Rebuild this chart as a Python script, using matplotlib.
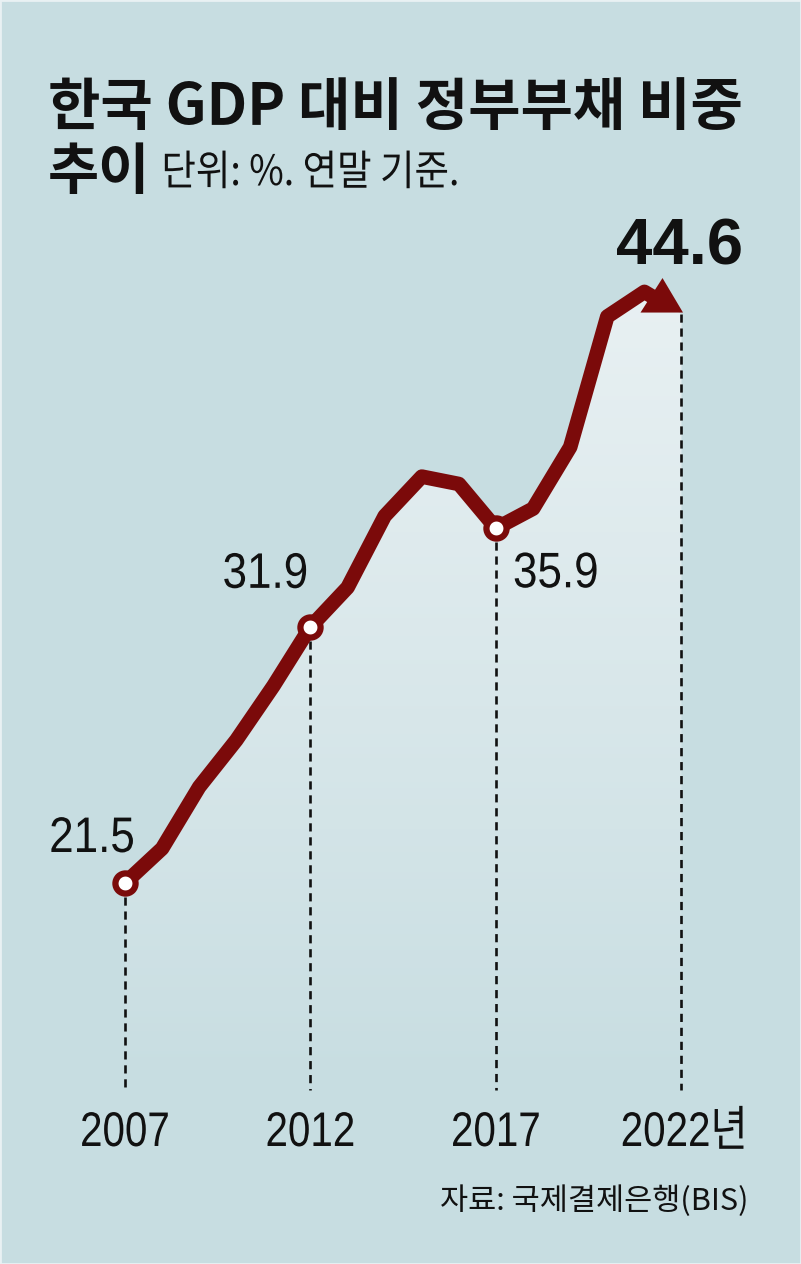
import numpy as np
import matplotlib
matplotlib.use('Agg')
import matplotlib.pyplot as plt
from matplotlib.transforms import Affine2D, ScaledTranslation
from matplotlib.patches import Polygon, Rectangle
from matplotlib.patheffects import AbstractPathEffect

# ---- data ----
years = list(range(2007, 2023))
debt = [21.5, 22.9, 25.4, 27.3, 29.5, 31.9, 33.5, 36.4, 38.0, 37.7,
        35.9, 36.7, 39.2, 44.5, 45.5, 44.6]
label_years = [2007, 2012, 2017, 2022]
tick_labels = ['2007', '2012', '2017', '2022년']
title_line1 = '한국 GDP 대비 정부부채 비중'
title_line2 = '추이'
unit_text = '단위: %. 연말 기준.'
source_text = '자료: 국제결제은행(BIS)'

# ---- style ----
W, H = 801, 1264
BG = '#c7dde1'
RED = '#7b0a0a'
INK = '#111111'
NUM = ['Liberation Sans', 'Noto Sans CJK KR']
KR = ['Noto Sans CJK KR', 'DejaVu Sans']


class Squeeze(AbstractPathEffect):
    """Draw text glyphs horizontally condensed (narrow type face look)."""
    def __init__(self, sx=0.85, anchor='center'):
        super().__init__()
        self.sx = sx
        self.anchor = anchor

    def draw_path(self, renderer, gc, tpath, affine, rgbFace=None):
        ext = tpath.get_extents()
        if self.anchor == 'left':
            cx = ext.x0
        elif self.anchor == 'right':
            cx = ext.x1
        else:
            cx = (ext.x0 + ext.x1) / 2
        t = Affine2D().translate(-cx, 0).scale(self.sx, 1).translate(cx, 0) + affine
        renderer.draw_path(gc, tpath, t, rgbFace)


fig = plt.figure(figsize=(W / 100, H / 100), dpi=100)
fig.patch.set_facecolor(BG)
ax = fig.add_axes([0, 0, 1, 1])
ax.axis('off')

# axis scale: pixel layout of the original
X0PX, XSTEP = 125, 37.1
Y0PX, YSTEP, V0 = 883, 24.63, 21.5
xlim = (years[0] - X0PX / XSTEP, years[0] + (W - X0PX) / XSTEP)
ylim = (V0 - (H - Y0PX) / YSTEP, V0 + Y0PX / YSTEP)
base = V0 - (1090 - Y0PX) / YSTEP

# gradient fill under the curve
poly = ax.fill_between(years, debt, base, facecolor='none', edgecolor='none')
n = 256
rgba = np.zeros((n, 1, 4))
rgba[..., 0] = 0.922
rgba[..., 1] = 0.950
rgba[..., 2] = 0.960
rgba[..., 3] = (np.linspace(0, 1, n) ** 0.9 * 0.95).reshape(-1, 1)
im = ax.imshow(rgba, extent=(years[0], years[-1], base, max(debt) + 1),
               origin='lower', aspect='auto', zorder=1, interpolation='bilinear')
im.set_clip_path(poly.get_paths()[0], transform=ax.transData)

# dashed guide lines
for yr in label_years:
    v = debt[years.index(yr)]
    ax.plot([yr, yr], [v, base], color=INK, lw=1.9,
            linestyle=(0, (3.1, 2.2)), dash_capstyle='butt', zorder=2)

# main line (ends into the arrow head)
mid_x = (years[-2] + years[-1]) / 2
mid_y = (debt[-2] + debt[-1]) / 2
ax.plot(years[:-1] + [mid_x], debt[:-1] + [mid_y], color=RED, lw=10.5,
        solid_joinstyle='round', solid_capstyle='butt', zorder=3)

# arrow head at last point
trans = Affine2D() + ScaledTranslation(years[-1], debt[-1], ax.transData)
head = Polygon([(1.5, 1.5), (-41, 1.5), (-19, 36)], closed=True, transform=trans,
               facecolor=RED, edgecolor='none', zorder=4)
ax.add_patch(head)

# markers
mk_v = [debt[years.index(y)] for y in label_years[:3]]
ax.plot(label_years[:3], mk_v, 'o', ms=14.5, mfc='white', mec=RED, mew=4.5, zorder=5)

# value labels
offsets = [(-33, 31), (-45, 39), (60, -59)]
for yr, v, (dx, dy) in zip(label_years[:3], mk_v, offsets):
    ax.annotate(f'{v}', xy=(yr, v), xytext=(dx, dy), textcoords='offset pixels',
                ha='center', va='baseline', fontsize=36, family=NUM, color=INK,
                path_effects=[Squeeze(0.88)])
ax.annotate(f'{debt[-1]}', xy=(years[-1], debt[-1]), xytext=(-2, 50),
            textcoords='offset pixels', ha='center', va='baseline',
            fontsize=47, fontweight='bold', family=['Liberation Sans', 'DejaVu Sans'],
            color=INK)

# year labels
for yr, lab in zip(label_years, tick_labels):
    dx = 3 if lab.endswith('년') else 0
    ax.annotate(lab, xy=(yr, base), xytext=(dx, -56), textcoords='offset pixels',
                ha='center', va='baseline', fontsize=35, family=NUM, color=INK,
                path_effects=[Squeeze(0.83)])

ax.set_xlim(*xlim)
ax.set_ylim(*ylim)

# titles
fig.text(48 / W, 1 - 125 / H, title_line1, fontsize=41, fontweight='bold',
         family=KR, color=INK, ha='left', va='baseline')
fig.text(48 / W, 1 - 189 / H, title_line2, fontsize=40, fontweight='bold',
         family=KR, color=INK, ha='left', va='baseline')
fig.text(161 / W, 1 - 185 / H, unit_text, fontsize=30, family=KR,
         color=INK, ha='left', va='baseline', path_effects=[Squeeze(0.9, 'left')])
fig.text(748 / W, 1 - 1210 / H, source_text, fontsize=22, family=KR,
         color=INK, ha='right', va='baseline')

fig.patches.append(Rectangle((0, 0), 1, 1, transform=fig.transFigure, fill=False,
                             edgecolor='#e9f1f3', lw=2))

fig.savefig('out.png', dpi=100, facecolor=BG)
